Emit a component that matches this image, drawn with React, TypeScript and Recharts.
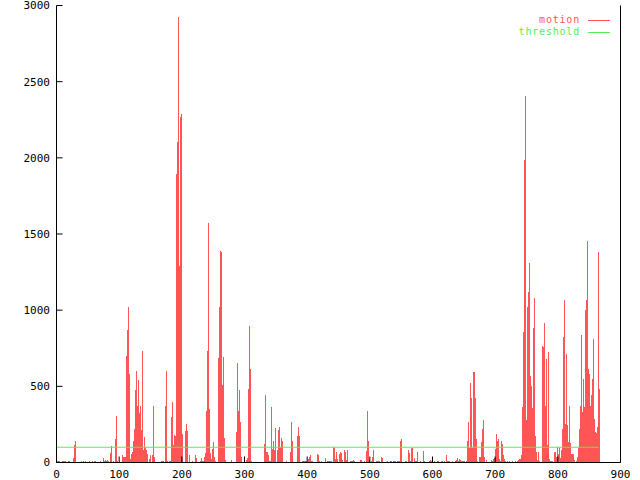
import React from 'react';
import { ComposedChart, Bar, Line, XAxis, YAxis } from 'recharts';

const RED = '#ff5555';
const GREEN = '#55ee55';
const MONO = '"DejaVu Sans Mono", "Liberation Mono", monospace';

// frame numbers (x) of the motion samples
const frames = [
  2, 3, 5, 6, 8, 10, 11, 13, 14, 16, 18, 19, 21, 22, 24, 26, 27, 29, 30, 32,
  34, 35, 37, 38, 40, 41, 43, 45, 46, 48, 49, 51, 53, 54, 56, 57, 59, 61, 62, 64,
  65, 67, 69, 70, 72, 73, 75, 77, 78, 80, 81, 83, 85, 86, 88, 89, 91, 93, 94, 96,
  97, 99, 101, 102, 104, 105, 107, 109, 110, 112, 113, 115, 116, 118, 120, 121, 123, 124, 126, 128,
  129, 131, 132, 134, 136, 137, 139, 140, 142, 144, 145, 147, 148, 150, 152, 153, 155, 156, 158, 160,
  161, 163, 164, 166, 168, 169, 171, 172, 174, 176, 177, 179, 180, 182, 184, 185, 187, 188, 190, 191,
  193, 195, 196, 198, 199, 201, 203, 204, 206, 207, 209, 211, 212, 214, 215, 217, 219, 220, 222, 223,
  225, 227, 228, 230, 231, 233, 235, 236, 238, 239, 241, 243, 244, 246, 247, 249, 251, 252, 254, 255,
  257, 259, 260, 262, 263, 265, 266, 268, 270, 271, 273, 274, 276, 278, 279, 281, 282, 284, 286, 287,
  289, 290, 292, 294, 295, 297, 298, 300, 302, 303, 305, 306, 308, 310, 311, 313, 314, 316, 318, 319,
  321, 322, 324, 326, 327, 329, 330, 332, 333, 335, 337, 338, 340, 341, 343, 345, 346, 348, 349, 351,
  353, 354, 356, 357, 359, 361, 362, 364, 365, 367, 369, 370, 372, 373, 375, 377, 378, 380, 381, 383,
  385, 386, 388, 389, 391, 393, 394, 396, 397, 399, 401, 402, 404, 405, 407, 408, 410, 412, 413, 415,
  416, 418, 420, 421, 423, 424, 426, 428, 429, 431, 432, 434, 436, 437, 439, 440, 442, 444, 445, 447,
  448, 450, 452, 453, 455, 456, 458, 460, 461, 463, 464, 466, 468, 469, 471, 472, 474, 476, 477, 479,
  480, 482, 483, 485, 487, 488, 490, 491, 493, 495, 496, 498, 499, 501, 503, 504, 506, 507, 509, 511,
  512, 514, 515, 517, 519, 520, 522, 523, 525, 527, 528, 530, 531, 533, 535, 536, 538, 539, 541, 543,
  544, 546, 547, 549, 551, 552, 554, 555, 557, 558, 560, 562, 563, 565, 566, 568, 570, 571, 573, 574,
  576, 578, 579, 581, 582, 584, 586, 587, 589, 590, 592, 594, 595, 597, 598, 600, 602, 603, 605, 606,
  608, 610, 611, 613, 614, 616, 618, 619, 621, 622, 624, 626, 627, 629, 630, 632, 633, 635, 637, 638,
  640, 641, 643, 645, 646, 648, 649, 651, 653, 654, 656, 657, 659, 661, 662, 664, 665, 667, 669, 670,
  672, 673, 675, 677, 678, 680, 681, 683, 685, 686, 688, 689, 691, 693, 694, 696, 697, 699, 701, 702,
  704, 705, 707, 708, 710, 712, 713, 715, 716, 718, 720, 721, 723, 724, 726, 728, 729, 731, 732, 734,
  736, 737, 739, 740, 742, 744, 745, 747, 748, 750, 752, 753, 755, 756, 758, 760, 761, 763, 764, 766,
  768, 769, 771, 772, 774, 776, 777, 779, 780, 782, 783, 785, 787, 788, 790, 791, 793, 795, 796, 798,
  799, 801, 803, 804, 806, 807, 809, 811, 812, 814, 815, 817, 819, 820, 822, 823, 825, 827, 828, 830,
  831, 833, 835, 836, 838, 839, 841, 843, 844, 846, 847, 849, 851, 852, 854, 855, 857, 858, 860, 862,
  863, 865, 866,
];

// motion values, one per frame above
const motion = [
  13, 8, 8, 5, 5, 13, 13, 10, 10, 5, 5, 13, 8, 3, 3, 5, 31, 112, 138, 3,
  3, 3, 3, 2, 10, 3, 10, 3, 10, 3, 3, 3, 10, 3, 3, 10, 3, 13, 8, 3,
  3, 3, 3, 13, 3, 3, 30, 8, 18, 13, 18, 8, 5, 61, 107, 5, 13, 5, 155, 302,
  8, 3, 3, 5, 3, 46, 35, 39, 35, 696, 873, 1020, 582, 26, 59, 72, 138, 217, 477, 600,
  368, 543, 322, 368, 214, 735, 79, 166, 105, 79, 57, 2, 26, 46, 2, 46, 368, 35, 2, 5,
  5, 5, 5, 5, 13, 13, 13, 2, 368, 600, 10, 5, 10, 13, 300, 396, 112, 180, 177, 1895,
  2103, 2923, 1293, 2267, 2285, 188, 2, 2, 210, 250, 205, 3, 46, 5, 5, 13, 3, 3, 52, 30,
  5, 5, 5, 13, 30, 13, 13, 37, 61, 335, 731, 1571, 352, 61, 20, 90, 133, 37, 13, 3,
  3, 683, 1020, 1387, 1380, 512, 692, 160, 18, 3, 3, 3, 3, 5, 18, 3, 3, 3, 3, 199,
  652, 337, 479, 265, 39, 3, 3, 35, 3, 18, 28, 484, 893, 611, 13, 3, 3, 3, 3, 3,
  5, 3, 3, 3, 3, 3, 3, 123, 440, 68, 66, 46, 13, 13, 363, 90, 144, 79, 225, 3,
  83, 214, 236, 101, 160, 144, 3, 3, 3, 13, 3, 3, 3, 68, 265, 144, 3, 3, 3, 5,
  177, 236, 177, 3, 3, 13, 13, 13, 13, 13, 3, 24, 35, 46, 8, 8, 3, 3, 3, 3,
  57, 46, 8, 3, 8, 3, 3, 5, 31, 3, 13, 13, 8, 13, 8, 3, 105, 94, 24, 68,
  20, 3, 57, 68, 61, 17, 3, 83, 68, 18, 85, 5, 5, 13, 13, 13, 18, 8, 3, 3,
  3, 3, 3, 15, 15, 3, 3, 13, 5, 74, 341, 144, 18, 5, 10, 35, 85, 5, 5, 13,
  13, 8, 8, 5, 39, 31, 5, 5, 5, 3, 8, 3, 3, 8, 8, 3, 8, 8, 8, 3,
  10, 10, 13, 138, 151, 3, 3, 3, 10, 10, 3, 79, 61, 13, 94, 94, 5, 31, 8, 13,
  68, 5, 5, 13, 5, 5, 74, 8, 5, 5, 5, 5, 13, 18, 8, 13, 3, 8, 5, 5,
  10, 13, 5, 5, 13, 8, 6, 10, 5, 52, 8, 8, 8, 5, 5, 13, 5, 5, 13, 18,
  31, 10, 24, 18, 8, 8, 8, 8, 3, 8, 140, 265, 96, 521, 425, 96, 597, 597, 425, 151,
  13, 5, 39, 39, 133, 221, 282, 35, 3, 18, 3, 3, 3, 5, 18, 8, 24, 28, 90, 188,
  140, 151, 24, 13, 138, 123, 46, 24, 8, 3, 8, 3, 8, 3, 3, 8, 3, 3, 8, 3,
  8, 18, 24, 24, 46, 363, 856, 1983, 2409, 276, 1024, 1118, 1309, 571, 505, 359, 884, 1081, 177, 68,
  18, 68, 8, 5, 5, 768, 757, 915, 374, 681, 112, 724, 24, 8, 13, 13, 3, 68, 66, 39,
  105, 57, 92, 31, 79, 221, 823, 1064, 254, 709, 243, 133, 374, 127, 57, 59, 57, 18, 2, 9,
  35, 96, 221, 374, 834, 330, 549, 363, 998, 1064, 1453, 615, 578, 374, 440, 549, 812, 287, 199, 192,
  230, 1385, 484,
];

const thresholdFrames = [0, 865];
const thresholdValues = [100, 100];

const xTicks = [0, 100, 200, 300, 400, 500, 600, 700, 800, 900];
const yTicks = [0, 500, 1000, 1500, 2000, 2500, 3000];

const seriesNames = ['motion', 'threshold'];
const seriesColors = [RED, GREEN];

const data = frames.map((f, i) => ({ frame: f, motion: motion[i] }));
const thresholdData = thresholdFrames.map((f, i) => ({ frame: f, threshold: thresholdValues[i] }));

// gnuplot-like impulse: one pixel column per sample
const Impulse = (props: any) => {
  const { x, y, width, height, fill } = props;
  if (!Number.isFinite(x) || !Number.isFinite(y) || !height) return null;
  const col = Math.round(x + width / 2 - 0.5);
  return <rect x={col} y={y} width={1} height={height} fill={fill} shapeRendering="crispEdges" />;
};

const tickStyle = { fill: '#000', fontSize: 11, fontFamily: MONO };

export default function App() {
  return (
    <div style={{ position: 'absolute', left: 0, top: 0, width: 640, height: 480, background: '#fff' }}>
      <ComposedChart
        width={640}
        height={480}
        data={data}
        margin={{ top: 5.5, right: 0, bottom: 0, left: 0 }}
      >
        <XAxis
          dataKey="frame"
          type="number"
          domain={[0, 900]}
          ticks={xTicks}
          interval={0}
          height={17.5}
          tickSize={-6}
          tickMargin={13.5}
          stroke="#000"
          tick={tickStyle}
          allowDataOverflow
        />
        <XAxis
          xAxisId="top"
          orientation="top"
          type="number"
          domain={[0, 900]}
          ticks={xTicks}
          interval={0}
          height={0}
          tickSize={-6}
          stroke="#000"
          tick={false}
          allowDataOverflow
        />
        <YAxis
          type="number"
          domain={[0, 3000]}
          ticks={yTicks}
          interval={0}
          width={56.5}
          tickSize={-6}
          tickMargin={12.5}
          stroke="#000"
          tick={tickStyle}
          allowDataOverflow
        />
        <YAxis
          yAxisId="right"
          orientation="right"
          type="number"
          domain={[0, 3000]}
          ticks={yTicks}
          interval={0}
          width={19.5}
          tickSize={-6}
          stroke="#000"
          tick={false}
          allowDataOverflow
        />
        <Bar dataKey="motion" fill={RED} shape={Impulse} isAnimationActive={false} />
        <Line
          data={thresholdData}
          dataKey="threshold"
          stroke={GREEN}
          strokeWidth={1.2}
          dot={false}
          activeDot={false}
          isAnimationActive={false}
        />
      </ComposedChart>
      <div
        style={{
          position: 'absolute',
          left: 440,
          top: 14,
          width: 170,
          fontFamily: MONO,
          fontSize: 10,
          letterSpacing: 0.8,
          lineHeight: '12px',
        }}
      >
        {seriesNames.map((name, i) => (
          <div
            key={name}
            style={{ display: 'flex', justifyContent: 'flex-end', alignItems: 'center', height: 12 }}
          >
            <span style={{ color: seriesColors[i] }}>{name}</span>
            <span style={{ width: 22, height: 1, background: seriesColors[i], marginLeft: 8 }} />
          </div>
        ))}
      </div>
    </div>
  );
}
